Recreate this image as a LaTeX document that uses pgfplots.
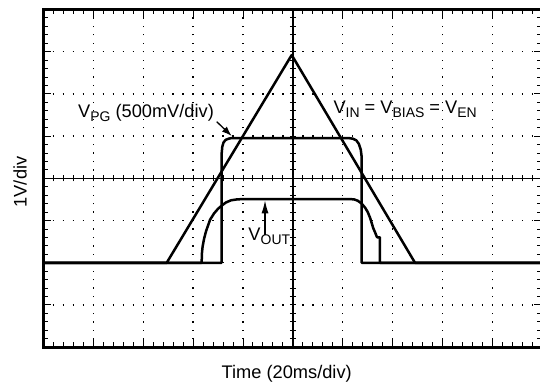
\documentclass[border=0pt]{standalone}
\usepackage{pgfplots}
\pgfplotsset{compat=1.18}
\usepackage{fontspec}
\setmainfont{Liberation Sans}
\usetikzlibrary{arrows.meta}
\newcommand\lbl{\fontsize{18.3}{20}\selectfont}
\newcommand\sub[1]{\raisebox{-4bp}{\fontsize{14}{14}\selectfont #1}}

\begin{document}
\begin{tikzpicture}[x=1bp,y=1bp]
\begin{axis}[
  at={(0,0)}, anchor=south west,
  scale only axis, width=499bp, height=337.7bp,
  xmin=0, xmax=10, ymin=-4, ymax=4,
  xtick={0,...,10}, ytick={-4,...,4},
  minor x tick num=4, minor y tick num=4,
  xticklabels={}, yticklabels={},
  tick align=inside,
  major tick length=8bp, minor tick length=5bp,
  tick style={black, line width=1bp},
  axis line style={line width=3bp, black},
  grid=major,
  major x grid style={black, line width=1.3bp, dash pattern=on 1.3bp off 7.142bp, dash phase=0.65bp},
  major y grid style={black, line width=1.3bp, dash pattern=on 1.3bp off 8.68bp, dash phase=0.65bp},
  clip=false,
]
% V_IN = V_BIAS = V_EN
\addplot[black, line width=2.5bp, line join=round, mark=none] coordinates {
(0,-2) (2.471,-2) (4.976,2.922) (7.447,-2) (10,-2)};
% V_PG
\addplot[black, line width=2.5bp, line join=round, mark=none] coordinates {
(0,-2) (3.573,-2) (3.573,0.6) (3.585,0.75) (3.61,0.85) (3.65,0.91) (3.71,0.94) (3.78,0.955)
(6.11,0.955) (6.2,0.94) (6.27,0.9) (6.32,0.82) (6.36,0.68) (6.379,0.5) (6.379,-2) (10,-2)};
% V_OUT
\addplot[black, line width=2.5bp, line join=round, mark=none] coordinates {
(0,-2) (3.172,-2) (3.175,-1.8) (3.19,-1.62) (3.22,-1.43) (3.26,-1.25) (3.34,-0.98) (3.42,-0.83)
(3.50,-0.72) (3.58,-0.64) (3.66,-0.57) (3.76,-0.52) (3.87,-0.50) (4.0,-0.49)
(6.14,-0.49) (6.23,-0.5) (6.30,-0.53) (6.38,-0.6) (6.45,-0.7) (6.50,-0.8) (6.545,-0.93)
(6.58,-1.06) (6.61,-1.18) (6.65,-1.29) (6.68,-1.38) (6.70,-1.40) (6.745,-1.40) (6.745,-2.0) (10,-2)};

\node[anchor=base west, inner sep=0] at (axis cs:0.693,1.446) {\lbl V\sub{PG} (500mV/div)};
\node[anchor=base west, inner sep=0] at (axis cs:5.81,1.541) {\lbl V\sub{IN} = V\sub{BIAS} = V\sub{EN}};
\node[anchor=base west, inner sep=0] at (axis cs:4.106,-1.461) {\lbl V\sub{OUT}};
\node[anchor=base, inner sep=0] at (axis cs:4.876,-4.737) {\lbl Time (20ms/div)};
\node[rotate=90, anchor=center, inner sep=0] at (axis cs:-0.469,-0.086) {\lbl 1V/div};

\draw[black, line width=1.3bp, -{Latex[length=10bp,width=7bp]}] (axis cs:3.473,1.342) -- (axis cs:3.774,1.003);
\draw[black, line width=1.3bp, -{Latex[length=13bp,width=7bp]}] (axis cs:4.441,-1.342) -- (axis cs:4.441,-0.52);
\end{axis}
% centre graticule lines with their ticks
\draw[black, line width=1.2bp] (249.5,0) -- (249.5,337.7);
\draw[black, line width=1.2bp] (0,168.85) -- (499,168.85);
\foreach \i in {1,...,49} \draw[black, line width=1bp] (\i*9.98,165.85) -- (\i*9.98,171.85);
\foreach \i in {1,...,39} \draw[black, line width=1bp] (246.5,\i*8.4425) -- (252.5,\i*8.4425);
\pgfresetboundingbox
\path[use as bounding box] (-43.4,-35.8) rectangle (496.6,347.2);
\end{tikzpicture}
\end{document}
